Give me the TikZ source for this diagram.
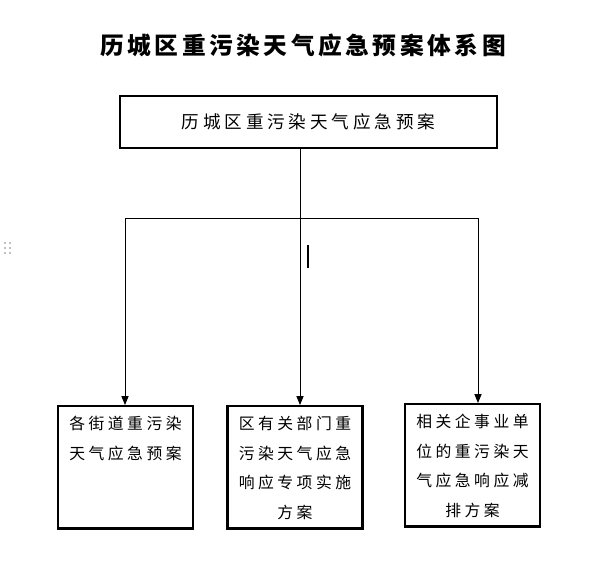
\documentclass[tikz,border=0pt]{standalone}
\usepackage{fontspec}
\newfontfamily\cjk[LetterSpace=22]{Noto Sans CJK SC}
\newfontfamily\cjktitle[LetterSpace=15]{Noto Sans CJK SC}
\usetikzlibrary{arrows.meta}
\tikzset{
    planbox/.style={draw, line width=1.2pt, minimum width=2.7cm, minimum height=2.45cm, align=center, anchor=north, inner ysep=2pt, font=\cjk\fontsize{9pt}{17pt}\selectfont, text depth=0pt},
    link/.style={draw, line width=0.5pt, -{Triangle[length=5pt,width=4pt]}}
}
\begin{document}
\begin{tikzpicture}[x=0.02cm, y=-0.02cm]
    \useasboundingbox (0,0) rectangle (609,574);
    % Titel
    \node[font=\cjktitle\bfseries\fontsize{13.5pt}{16pt}\selectfont] (title) at (303,45) {历城区重污染天气应急预案体系图};

    % Hauptplan
    \node[draw, line width=1.2pt, minimum width=7.54cm, minimum height=1.04cm, font=\cjk\fontsize{10pt}{12pt}\selectfont] (main) at (308.5,122) {历城区重污染天气应急预案};

    % Teilpläne
    \node[planbox] (street) at (125.5,405) {各街道重污染\\天气应急预案\\[17pt]};
    \node[planbox] (dept) at (295,405) {区有关部门重\\污染天气应急\\响应专项实施\\方案};
    \node[planbox] (firm) at (472.5,403) {相关企事业单\\位的重污染天\\气应急响应减\\排方案};

    % Verbindungen
    \coordinate (fork) at (300,218);
    \coordinate (forkl) at (125,218);
    \coordinate (forkr) at (478,218);
    \draw[line width=0.5pt] (main.south -| fork) -- (fork);
    \draw[line width=0.5pt] (forkl) -- (forkr);
    \draw[link] (fork) -- (fork |- dept.north);
    \draw[link] (forkl) -- (forkl |- street.north);
    \draw[link] (forkr) -- (forkr |- firm.north);

    % Cursor und Griff
    \draw[line width=1pt] (308,245) -- (308,268);
    \foreach \px in {5,10} \foreach \py in {243,248,253}
        \fill[gray] (\px,\py) circle (0.8);
\end{tikzpicture}
\end{document}
